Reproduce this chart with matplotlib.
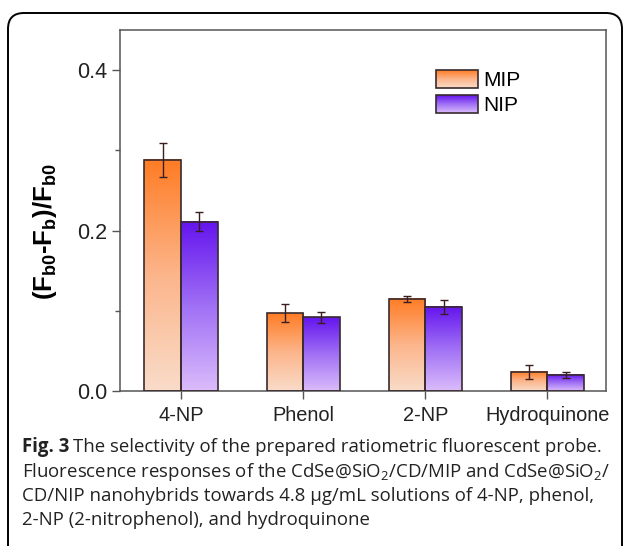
import numpy as np
import matplotlib
matplotlib.use("Agg")
import matplotlib.pyplot as plt
from matplotlib.colors import LinearSegmentedColormap
from matplotlib.patches import Rectangle, FancyBboxPatch, Patch
from matplotlib.legend_handler import HandlerBase
from matplotlib.image import BboxImage
from matplotlib.transforms import Bbox, TransformedBbox

plt.rcParams['font.family'] = ['Liberation Sans', 'DejaVu Sans']
plt.rcParams['mathtext.fontset'] = 'custom'
plt.rcParams['mathtext.rm'] = 'Open Sans'
plt.rcParams['mathtext.it'] = 'Open Sans:italic'
plt.rcParams['mathtext.bf'] = 'Liberation Sans:bold'

# данные
categories = ['4-NP', 'Phenol', '2-NP', 'Hydroquinone']
mip = [0.288, 0.097, 0.115, 0.024]
mip_err = [0.021, 0.011, 0.004, 0.009]
nip = [0.211, 0.092, 0.105, 0.020]
nip_err = [0.012, 0.007, 0.009, 0.004]
series_names = ['MIP', 'NIP']

orange_cmap = LinearSegmentedColormap.from_list('orange', ['#f9dcc9', '#fcb58b', '#ff7c24'])
purple_cmap = LinearSegmentedColormap.from_list('purple', ['#dbbcfb', '#a070f5', '#6414ee'])
edge_col = '#3a2a2e'
grad = np.linspace(0, 1, 256).reshape(-1, 1)


class GradientHandler(HandlerBase):
    """Прямоугольник легенды с градиентной заливкой"""
    def __init__(self, cmap):
        super().__init__()
        self.cmap = cmap

    def create_artists(self, legend, orig_handle, xdescent, ydescent,
                       width, height, fontsize, trans):
        bb = TransformedBbox(Bbox.from_bounds(-xdescent, -ydescent, width, height), trans)
        img = BboxImage(bb, cmap=self.cmap, interpolation='bicubic', origin='lower')
        img.set_data(grad)
        rect = Rectangle((-xdescent, -ydescent), width, height, facecolor='none',
                         edgecolor=edge_col, linewidth=1.2, transform=trans)
        return [img, rect]


fig = plt.figure(figsize=(6.29, 5.46), dpi=100)
ax = fig.add_axes([120 / 629, 1 - 391 / 546, 486 / 629, 361 / 546])

x = np.arange(len(categories))
width = 0.3

for vals, errs, cmap, offset in [(mip, mip_err, orange_cmap, -width / 2),
                                 (nip, nip_err, purple_cmap, width / 2)]:
    bars = ax.bar(x + offset, vals, width, facecolor='none', edgecolor=edge_col,
                  linewidth=1.2, zorder=3)
    for b in bars:
        x0 = b.get_x()
        ax.imshow(grad, extent=[x0, x0 + b.get_width(), 0, b.get_height()],
                  origin='lower', aspect='auto', cmap=cmap, interpolation='bicubic', zorder=2)
    ax.errorbar(x + offset, vals, yerr=errs, fmt='none', ecolor='#3a1e1e',
                elinewidth=1.0, capsize=3, capthick=1.0, zorder=4)

ax.set_xlim(-0.5, 3.48)
ax.set_ylim(0, 0.45)
ax.set_xticks(x)
ax.set_xticklabels(categories, fontsize=14.4, color='#222222')
ax.set_yticks([0.0, 0.2, 0.4])
ax.set_yticklabels(['0.0', '0.2', '0.4'], fontsize=15.5, color='#222222')
ax.set_yticks([0.1, 0.3], minor=True)
ax.tick_params(axis='both', which='major', direction='out', length=5.5, width=1.0, color='#555555')
ax.tick_params(axis='y', which='minor', direction='out', length=3.5, width=1.0, color='#555555')
ax.tick_params(axis='x', pad=5)
for s in ax.spines.values():
    s.set_color('#555555')
    s.set_linewidth(1.1)

ax.set_ylabel(r'$\mathbf{(F_{b0}}$-$\mathbf{F_b)/F_{b0}}$', fontsize=18.5, fontweight='bold')
ax.yaxis.set_label_coords(-0.125, 0.44)

handles = [Patch(label=series_names[0]), Patch(label=series_names[1])]
ax.legend(handles=handles, labels=series_names,
          handler_map={handles[0]: GradientHandler(orange_cmap),
                       handles[1]: GradientHandler(purple_cmap)},
          loc='upper left', bbox_to_anchor=(0.65, 0.89), frameon=False, fontsize=15,
          handlelength=2.0, handleheight=0.95, handletextpad=0.25, labelspacing=0.25,
          borderpad=0, borderaxespad=0)

# рамка вокруг рисунка
frame = FancyBboxPatch((0.08, -0.3), 6.14, 5.46 - 0.13 + 0.3,
                       boxstyle='round,pad=0,rounding_size=0.16',
                       transform=fig.dpi_scale_trans, facecolor='none',
                       edgecolor='black', linewidth=1.4, clip_on=False)
fig.patches.append(frame)

# подпись
cap_kw = dict(fontsize=13.4, family='Open Sans', color='#222222', va='baseline', ha='left')
lines_y = [452, 477, 501, 525]
t0 = fig.text(22 / 629, 1 - lines_y[0] / 546, 'Fig. 3', fontweight='bold', **cap_kw)
fig.canvas.draw()
r = fig.canvas.get_renderer()
bb = t0.get_window_extent(r)
fig.text(bb.x1 / 629 + 4 / 629, 1 - lines_y[0] / 546,
         'The selectivity of the prepared ratiometric fluorescent probe.', **cap_kw)
caption = ['Fluorescence responses of the CdSe@SiO$_2$/CD/MIP and CdSe@SiO$_2$/',
           'CD/NIP nanohybrids towards 4.8 µg/mL solutions of 4-NP, phenol,',
           '2-NP (2-nitrophenol), and hydroquinone']
for line, yy in zip(caption, lines_y[1:]):
    fig.text(22 / 629, 1 - yy / 546, line, **cap_kw)

fig.savefig('out.png', dpi=100)
